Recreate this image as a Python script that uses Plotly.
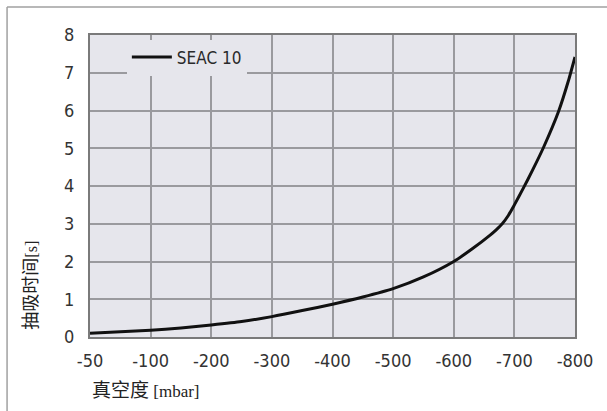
import numpy as np
import plotly.graph_objects as go

# x-axis ticks are evenly spaced although the mbar steps are not
tick_mbar = [-50, -100, -200, -300, -400, -500, -600, -700, -800]
tick_text = ["-50", "-100", "-200", "-300", "-400", "-500", "-600", "-700", "-800"]

# SEAC 10 curve
vacuum = [-50, -100, -150, -200, -250, -300, -350, -400, -450, -500, -550,
          -600, -630, -660, -670, -680, -690, -700, -715, -730, -748, -773, -789, -800]
seac10 = [0.10, 0.18, 0.24, 0.32, 0.41, 0.54, 0.70, 0.87, 1.06, 1.28, 1.59,
          2.00, 2.33, 2.70, 2.84, 3.00, 3.22, 3.50, 3.95, 4.42, 5.02, 5.98, 6.78, 7.42]

# map mbar to the chart's stepped scale
tick_pos = list(range(len(tick_mbar)))
xpos = np.interp([-v for v in vacuum], [-v for v in tick_mbar], tick_pos)

fnt = "Liberation Sans Narrow, DejaVu Sans Condensed, Arial Narrow, sans-serif"
cjk = "Noto Sans CJK SC"
bg = "#e6e6ec"
grid = "#9a9a9e"

fig = go.Figure()
fig.add_trace(go.Scatter(x=xpos, y=seac10, mode="lines", name="SEAC 10",
                         line=dict(color="#111111", width=3, shape="spline", smoothing=0.6)))

fig.update_layout(
    width=607, height=411,
    margin=dict(l=90, r=32, t=35, b=74),
    paper_bgcolor="white", plot_bgcolor=bg,
    font=dict(family=fnt, size=18, color="#333333"),
    showlegend=True,
    legend=dict(x=0.076, y=0.985, xanchor="left", yanchor="top",
                bgcolor=bg, borderwidth=0, font=dict(family=fnt, size=17, color="#2a2a2a"),
                itemwidth=40),
    xaxis=dict(range=[0, 8], tickvals=tick_pos, ticktext=tick_text,
               showgrid=True, gridcolor=grid, gridwidth=1.5, zeroline=False,
               showline=True, linecolor="#7a7a7a", linewidth=2, mirror=True,
               ticks="", ticklabelstandoff=6),
    yaxis=dict(range=[0, 8], dtick=1,
               showgrid=True, gridcolor=grid, gridwidth=1.5, zeroline=False,
               showline=True, linecolor="#7a7a7a", linewidth=2, mirror=True,
               ticks="", ticklabelstandoff=10),
)

# axis titles
fig.add_annotation(text="真空度 <span style='font-family:Liberation Sans Narrow;font-size:17px'>[mbar]</span>",
                   xref="paper", yref="paper", x=0, y=-0.17, xanchor="left", yanchor="middle",
                   showarrow=False, font=dict(family=cjk, size=19, color="#222222"))
fig.add_annotation(text="抽吸时间<span style='font-family:Liberation Sans Narrow;font-size:16px'>[s]</span>",
                   xref="paper", yref="paper", x=-0.126, y=0.173, xanchor="center", yanchor="middle",
                   textangle=-90, showarrow=False, font=dict(family=cjk, size=18, color="#222222"))

# thin outer frame at top and left
fig.add_shape(type="line", xref="paper", yref="paper", x0=-0.171, x1=1.07, y0=1.093, y1=1.093,
              line=dict(color="#a0a0a0", width=1.5))
fig.add_shape(type="line", xref="paper", yref="paper", x0=-0.171, x1=-0.171, y0=1.093, y1=-0.25,
              line=dict(color="#a0a0a0", width=1.5))

fig.write_html("out.html", config={"displayModeBar": False},
               post_script="document.body.style.margin='0';")
